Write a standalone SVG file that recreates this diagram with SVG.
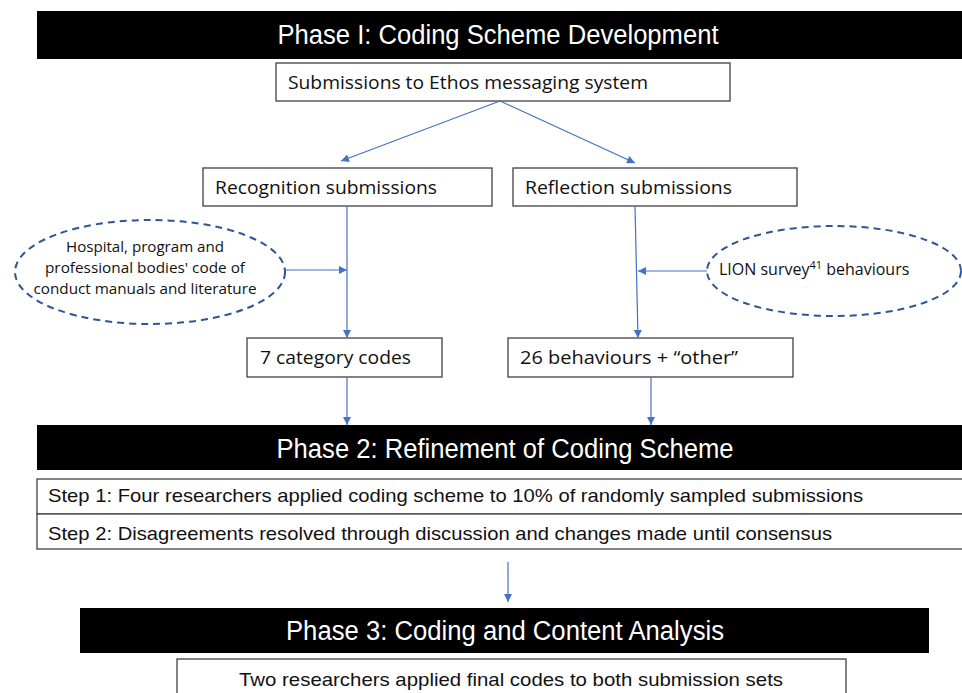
<svg xmlns="http://www.w3.org/2000/svg" width="962" height="693" viewBox="0 0 962 693">
<defs>
<marker id="ah" viewBox="0 0 10 10" refX="10" refY="5" markerWidth="10" markerHeight="8" markerUnits="userSpaceOnUse" orient="auto">
<path d="M0,0 L10,5 L0,10 z" fill="#4472C4"/>
</marker>
<style>
.bar{fill:#000}
.bt{font-family:"Liberation Sans",Arial,sans-serif;font-size:27px;fill:#fff;text-anchor:middle}
.box{fill:#fff;stroke:#404040;stroke-width:1.3}
.t{font-family:"Open Sans","Liberation Sans",sans-serif;font-size:18px;fill:#111}
.st{font-family:"Liberation Sans",Arial,sans-serif;font-size:19px;fill:#111}
.et{font-family:"Open Sans","Liberation Sans",sans-serif;font-size:14px;fill:#111;text-anchor:middle}
.ell{fill:#fff;stroke:#2F5597;stroke-width:2;stroke-dasharray:7,5}
.c{stroke:#4472C4;stroke-width:1.2;fill:none;marker-end:url(#ah)}
</style>
</defs>
<rect width="962" height="693" fill="#fff"/>

<g id="phase1">
<rect class="bar" x="37" y="11" width="925" height="48"/>
<text class="bt" x="498" y="44" textLength="441" lengthAdjust="spacingAndGlyphs">Phase I: Coding Scheme Development</text>
</g>
<g id="submissions">
<rect class="box" x="276" y="63" width="454" height="38"/>
<text class="t" x="288" y="89" textLength="360" lengthAdjust="spacingAndGlyphs">Submissions to Ethos messaging system</text>
</g>
<g id="recognition">
<rect class="box" x="203" y="168" width="289" height="38"/>
<text class="t" x="215" y="194" textLength="222" lengthAdjust="spacingAndGlyphs">Recognition submissions</text>
</g>
<g id="reflection">
<rect class="box" x="513" y="168" width="284" height="38"/>
<text class="t" x="525" y="194" textLength="207" lengthAdjust="spacingAndGlyphs">Reflection submissions</text>
</g>
<g id="hospital">
<ellipse class="ell" cx="150" cy="272" rx="135" ry="52"/>
<text class="et" x="145" y="252" textLength="158" lengthAdjust="spacingAndGlyphs">Hospital, program and</text>
<text class="et" x="145" y="273" textLength="200" lengthAdjust="spacingAndGlyphs">professional bodies' code of</text>
<text class="et" x="145" y="294" textLength="223" lengthAdjust="spacingAndGlyphs">conduct manuals and literature</text>
</g>
<g id="lion">
<ellipse class="ell" cx="834" cy="271" rx="127" ry="45"/>
<text class="et" x="719" y="275" style="text-anchor:start;font-size:16px">LION survey<tspan font-size="11" dy="-6">41</tspan><tspan dy="6"> behaviours</tspan></text>
</g>
<g id="codes7">
<rect class="box" x="247" y="338" width="195" height="39"/>
<text class="t" x="260" y="364" textLength="151" lengthAdjust="spacingAndGlyphs">7 category codes</text>
</g>
<g id="behaviours26">
<rect class="box" x="508" y="338" width="285" height="39"/>
<text class="t" x="520" y="364" textLength="218" lengthAdjust="spacingAndGlyphs">26 behaviours + “other”</text>
</g>
<g id="phase2">
<rect class="bar" x="37" y="425" width="925" height="45"/>
<text class="bt" x="505" y="458" textLength="457" lengthAdjust="spacingAndGlyphs">Phase 2: Refinement of Coding Scheme</text>
</g>
<g id="step1">
<rect class="box" x="37" y="479" width="926" height="35"/>
<text class="st" x="48" y="502" textLength="815" lengthAdjust="spacingAndGlyphs">Step 1: Four researchers applied coding scheme to 10% of randomly sampled submissions</text>
</g>
<g id="step2">
<rect class="box" x="37" y="514" width="926" height="35"/>
<text class="st" x="48" y="540" textLength="784" lengthAdjust="spacingAndGlyphs">Step 2: Disagreements resolved through discussion and changes made until consensus</text>
</g>
<g id="phase3">
<rect class="bar" x="80" y="608" width="849" height="45"/>
<text class="bt" x="505" y="640" textLength="438" lengthAdjust="spacingAndGlyphs">Phase 3: Coding and Content Analysis</text>
</g>
<g id="final">
<rect class="box" x="177" y="659" width="669" height="40"/>
<text class="st" x="511" y="686" text-anchor="middle" textLength="544" lengthAdjust="spacingAndGlyphs">Two researchers applied final codes to both submission sets</text>
</g>

<g id="connectors">
<line class="c" x1="500" y1="101" x2="341" y2="161"/>
<line class="c" x1="500" y1="101" x2="635" y2="163"/>
<line class="c" x1="347" y1="206" x2="347" y2="338"/>
<line class="c" x1="285" y1="270" x2="347" y2="270"/>
<line class="c" x1="635" y1="206" x2="638" y2="338"/>
<line class="c" x1="707" y1="271" x2="638" y2="271"/>
<line class="c" x1="347" y1="377" x2="347" y2="425"/>
<line class="c" x1="651" y1="377" x2="651" y2="425"/>
<line class="c" x1="508" y1="562" x2="508" y2="602"/>
</g>
</svg>
